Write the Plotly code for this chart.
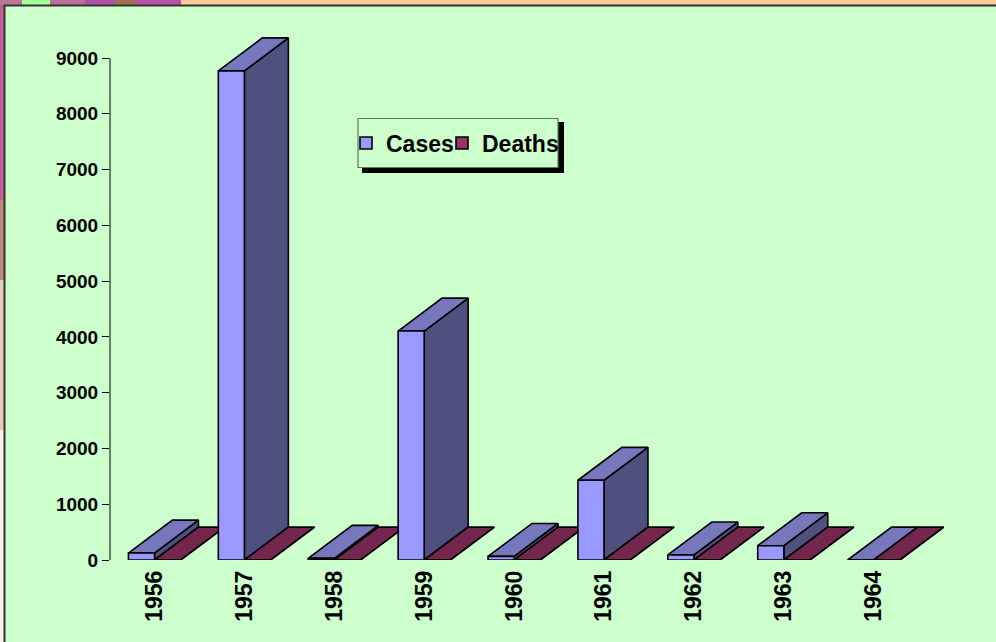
import plotly.graph_objects as go

years = ["1956", "1957", "1958", "1959", "1960", "1961", "1962", "1963", "1964"]
cases = [125, 8770, 30, 4105, 65, 1430, 90, 256, 0]
deaths = [0, 0, 0, 0, 0, 0, 0, 0, 0]
y_ticks = [0, 1000, 2000, 3000, 4000, 5000, 6000, 7000, 8000, 9000]

W, H = 996, 642
ML, MR, MT, MB = 110, 36, 14, 82
PX_PER_CAT = 89.9
BAR_W = 0.29
DEPTH_X = 0.489
DEPTH_Y = 590
Y_TOP = 9000 + 44 * 9000 / 502
positions = list(range(len(years)))
x_range = [-(44.5 / PX_PER_CAT), (W - MR - ML - 44.5) / PX_PER_CAT]
LINE = dict(color="black", width=1.6)


def depth_polys(values, left_edge):
    side_x, side_y, top_x, top_y = [], [], [], []
    for p, v in zip(positions, values):
        x0 = p + left_edge
        x1 = x0 + BAR_W
        side_x += [x1, x1 + DEPTH_X, x1 + DEPTH_X, x1, x1, None]
        side_y += [0, DEPTH_Y, v + DEPTH_Y, v, 0, None]
        top_x += [x0, x1, x1 + DEPTH_X, x0 + DEPTH_X, x0, None]
        top_y += [v, v, v + DEPTH_Y, v + DEPTH_Y, v, None]
    return side_x, side_y, top_x, top_y


fig = go.Figure()
for values, edge, side_col, top_col, name in [
    (cases, -BAR_W, "#4F4F80", "#7777BD", "Cases depth"),
    (deaths, 0, "#4D1A33", "#75264D", "Deaths depth"),
]:
    sx, sy, tx, ty = depth_polys(values, edge)
    for xs, ys, col in [(sx, sy, side_col), (tx, ty, top_col)]:
        fig.add_trace(go.Scatter(x=xs, y=ys, mode="lines", fill="toself", fillcolor=col,
                                 line=LINE, showlegend=False, hoverinfo="skip", name=name))

fig.add_trace(go.Bar(x=positions, y=cases, name="Cases", width=BAR_W, offset=-BAR_W,
                     marker=dict(color="#9999FF", line=LINE), xaxis="x2", yaxis="y2",
                     legend="legend"))
fig.add_trace(go.Bar(x=positions, y=deaths, name="Deaths", width=BAR_W, offset=0,
                     marker=dict(color="#993366", line=LINE), xaxis="x2", yaxis="y2",
                     legend="legend2"))


def px(x):
    return (x - ML) / (W - ML - MR)


def py(y):
    return 1 - (y - MT) / (H - MT - MB)


def rect(x0, y0, x1, y1, fill, line=None, width=0):
    return dict(type="rect", xref="paper", yref="paper", x0=px(x0), x1=px(x1), y0=py(y0), y1=py(y1),
                fillcolor=fill, line=dict(color=line or fill, width=width), layer="below")


shapes = [
    rect(0, 0, 996, 5, "#FFCC99"),
    rect(0, 0, 22, 5, "#B87890"),
    rect(22, 0, 50, 5, "#A0FF99"),
    rect(50, 0, 85, 5, "#B8709A"),
    rect(85, 0, 115, 5, "#B050A8"),
    rect(115, 0, 135, 5, "#A0704F"),
    rect(135, 0, 181, 5, "#B850A8"),
    rect(0, 5, 4, 200, "#C0609A"),
    rect(0, 200, 4, 280, "#C08878"),
    rect(0, 280, 4, 430, "#E4CDB8"),
    rect(0, 430, 4, 642, "#FFF0E4"),
    rect(4.5, 5.5, 1002, 650, "#CCFFCC", "#333333", 2),
    rect(362, 122, 564, 173, "black"),
    rect(358, 118.5, 558, 167.5, "#CCFFCC", "#5A7A5A", 1.2),
    dict(type="line", xref="paper", yref="y", x0=0, x1=0, y0=0, y1=9000,
         line=dict(color="black", width=1)),
]

legend_common = dict(orientation="h", xanchor="left", yanchor="middle",
                     bgcolor="rgba(0,0,0,0)", borderwidth=0,
                     font=dict(size=23, family="Liberation Sans", weight="bold"))

fig.update_layout(
    width=W, height=H, autosize=False,
    margin=dict(l=ML, r=MR, t=MT, b=MB),
    paper_bgcolor="#CCFFCC", plot_bgcolor="rgba(0,0,0,0)",
    font=dict(family="Liberation Sans", color="black"),
    barmode="overlay",
    shapes=shapes,
    showlegend=True,
    legend=dict(x=px(346), y=py(143), **legend_common),
    legend2=dict(x=px(442), y=py(143), **legend_common),
    xaxis=dict(range=x_range, tickmode="array", tickvals=positions, ticktext=years,
               tickangle=-90, tickfont=dict(size=23, weight="bold"), showgrid=False,
               zeroline=False, showline=False, ticks="", ticklabelstandoff=5),
    yaxis=dict(range=[0, Y_TOP], tickmode="array", tickvals=y_ticks, showgrid=False,
               zeroline=False, showline=False,
               ticks="outside", ticklen=7, tickcolor="black", tickwidth=1,
               tickfont=dict(size=19, weight="bold")),
    xaxis2=dict(range=x_range, overlaying="x", visible=False),
    yaxis2=dict(range=[0, Y_TOP], overlaying="y", visible=False),
)

fig.write_html("out.html", config={"displayModeBar": False},
               post_script="document.body.style.margin='0';document.body.style.overflow='hidden';")
